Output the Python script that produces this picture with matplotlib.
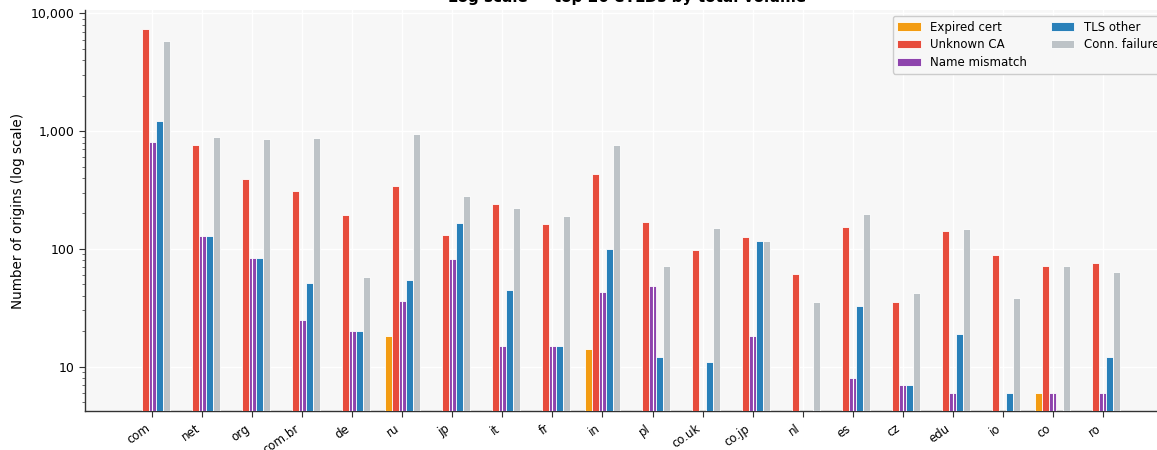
import numpy as np
import matplotlib
matplotlib.use("Agg")
import matplotlib.pyplot as plt
from matplotlib.ticker import FuncFormatter, LogLocator, NullFormatter

# Top 20 eTLDs, ordered by total volume
etlds = ["com", "net", "org", "com.br", "de", "ru", "jp", "it", "fr", "in",
         "pl", "co.uk", "co.jp", "nl", "es", "cz", "edu", "io", "co", "ro"]

# Origins per failure category (0 = none observed)
expired_cert = [0, 0, 0, 0, 0, 18, 0, 0, 0, 14, 0, 0, 0, 0, 0, 0, 0, 0, 6, 0]
unknown_ca = [7400, 765, 390, 309, 194, 344, 132, 241, 163, 436,
              169, 97, 125, 61, 154, 35, 141, 89, 72, 76]
name_mismatch = [815, 128, 84, 25, 20, 36, 82, 15, 15, 43,
                 48, 0, 18, 0, 8, 7, 6, 0, 6, 6]
tls_other = [1230, 128, 84, 51, 20, 54, 165, 45, 15, 100,
             12, 11, 116, 0, 33, 7, 19, 6, 0, 12]
conn_failure = [5780, 894, 860, 872, 58, 942, 280, 224, 191, 765,
                72, 151, 116, 35, 197, 42, 148, 38, 72, 64]

series = [
    ("Expired cert", expired_cert, "#f39c12"),
    ("Unknown CA", unknown_ca, "#e74c3c"),
    ("Name mismatch", name_mismatch, "#8e44ad"),
    ("TLS other", tls_other, "#2980b9"),
    ("Conn. failure", conn_failure, "#bdc3c7"),
]

fig = plt.figure(figsize=(11.57, 4.5), dpi=100)
ax = fig.add_axes([0.0735, 0.0856, 0.9377, 0.8922])
ax.set_facecolor("#f7f7f7")

x = np.arange(len(etlds))
width = 0.14
for i, (label, vals, color) in enumerate(series):
    vals = np.asarray(vals, dtype=float)
    pos = x + (i - 2) * width
    heights = np.where(vals > 0, vals, np.nan)
    ax.bar(pos, heights, width=width, color=color, edgecolor="white",
           linewidth=0.6, label=label, zorder=3)
    if label == "Name mismatch":
        # thin white centre line on the mismatch bars
        mask = vals > 0
        ax.vlines(pos[mask], 1, vals[mask], color="white", linewidth=0.8,
                  zorder=4)

ax.set_yscale("log")
ax.set_ylim(4.15, 10700)
ax.set_xlim(-1.34, 20.34)

ax.yaxis.set_major_locator(LogLocator(base=10))
ax.yaxis.set_major_formatter(FuncFormatter(lambda v, p: f"{int(round(v)):,}"))
ax.yaxis.set_minor_locator(LogLocator(base=10, subs=np.arange(2, 10)))
ax.yaxis.set_minor_formatter(NullFormatter())

ax.set_xticks(x)
ax.set_xticklabels(etlds, rotation=35, ha="right", fontsize=8.5)
ax.tick_params(axis="y", labelsize=9)
ax.tick_params(axis="both", which="major", color="#333333", length=4)
ax.tick_params(axis="y", which="minor", color="#555555", length=2)

ax.grid(True, which="major", axis="both", color="white", linewidth=1.0,
        zorder=0)
ax.set_axisbelow(True)

for side in ("top", "right"):
    ax.spines[side].set_visible(False)
for side in ("left", "bottom"):
    ax.spines[side].set_color("#333333")
    ax.spines[side].set_linewidth(1.0)

ax.set_ylabel("Number of origins (log scale)", fontsize=9.75)
ax.set_title("Log scale — top 20 eTLDs by total volume", fontsize=11,
             fontweight="bold")

ax.legend(loc="upper right", ncol=2, fontsize=8.5, frameon=True,
          facecolor="#f7f7f7", edgecolor="#cccccc", framealpha=1.0,
          labelspacing=0.4)

fig.savefig("out.png", dpi=100)
